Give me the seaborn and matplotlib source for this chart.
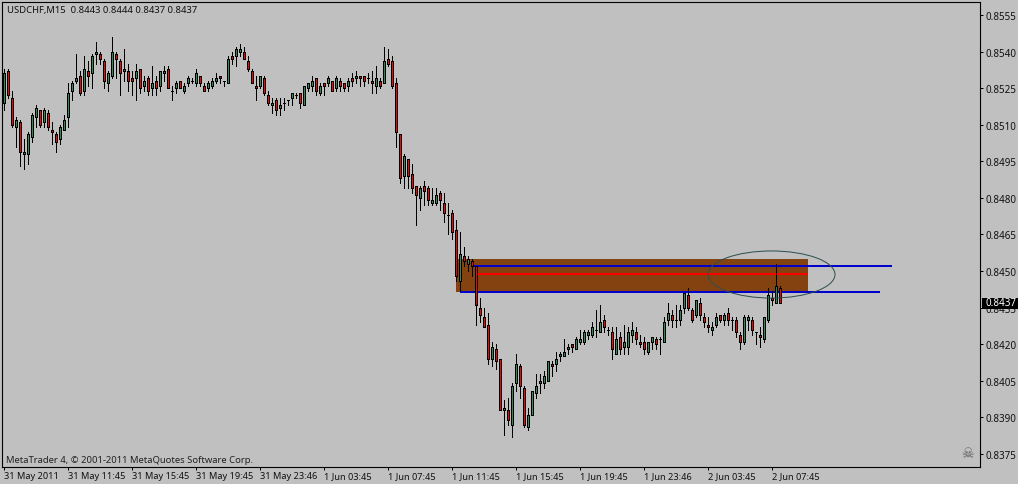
import pandas as pd
import matplotlib
matplotlib.use('Agg')
import matplotlib.pyplot as plt
from matplotlib.patches import Ellipse, Rectangle
import seaborn as sns

# quotes in 1/10000 CHF, one list per OHLC column
highs = [8533, 8533, 8524, 8513, 8512, 8504, 8507, 8515, 8518, 8516,
         8517, 8516, 8511, 8507, 8510, 8514, 8527, 8528, 8539, 8532,
         8538, 8536, 8539, 8544, 8540, 8537, 8532, 8546, 8540, 8537,
         8541, 8535, 8532, 8535, 8533, 8530, 8530, 8534, 8530, 8532,
         8534, 8534, 8526, 8528, 8528, 8527, 8530, 8529, 8533, 8530,
         8527, 8528, 8529, 8531, 8530, 8528, 8538, 8540, 8542, 8543,
         8542, 8538, 8533, 8530, 8530, 8530, 8524, 8521, 8521, 8521,
         8521, 8520, 8523, 8523, 8523, 8526, 8527, 8530, 8529, 8527,
         8527, 8530, 8528, 8530, 8529, 8527, 8529, 8531, 8532, 8530,
         8530, 8531, 8532, 8534, 8529, 8542, 8541, 8538, 8529, 8506,
         8498, 8496, 8494, 8485, 8485, 8487, 8485, 8484, 8484, 8483,
         8482, 8478, 8475, 8471, 8466, 8460, 8456, 8455, 8452, 8439,
         8435, 8433, 8421, 8420, 8414, 8397, 8398, 8404, 8416, 8412,
         8403, 8394, 8401, 8408, 8408, 8409, 8413, 8413, 8417, 8417,
         8422, 8420, 8420, 8423, 8426, 8426, 8426, 8429, 8434, 8436,
         8432, 8427, 8427, 8427, 8425, 8428, 8427, 8429, 8427, 8424,
         8423, 8421, 8423, 8423, 8423, 8431, 8437, 8434, 8436, 8436,
         8441, 8443, 8435, 8438, 8439, 8433, 8431, 8429, 8433, 8432,
         8433, 8435, 8431, 8431, 8425, 8432, 8432, 8431, 8425, 8427,
         8431, 8443, 8442, 8453, 8444]
lows = [8516, 8521, 8509, 8501, 8493, 8492, 8494, 8503, 8509, 8509,
        8509, 8508, 8502, 8499, 8502, 8508, 8509, 8520, 8527, 8522,
        8522, 8526, 8525, 8535, 8535, 8525, 8524, 8529, 8529, 8522,
        8528, 8524, 8522, 8520, 8523, 8524, 8522, 8522, 8522, 8524,
        8528, 8525, 8520, 8523, 8525, 8523, 8526, 8527, 8526, 8526,
        8524, 8524, 8525, 8527, 8527, 8526, 8527, 8535, 8534, 8538,
        8537, 8532, 8527, 8520, 8525, 8522, 8518, 8515, 8514, 8514,
        8516, 8518, 8518, 8521, 8517, 8518, 8524, 8524, 8522, 8522,
        8522, 8526, 8524, 8524, 8524, 8524, 8524, 8526, 8527, 8526,
        8526, 8527, 8523, 8523, 8525, 8527, 8534, 8525, 8501, 8486,
        8484, 8484, 8482, 8469, 8475, 8477, 8477, 8477, 8477, 8475,
        8470, 8465, 8463, 8446, 8442, 8452, 8450, 8448, 8428, 8429,
        8427, 8412, 8411, 8410, 8393, 8383, 8387, 8382, 8401, 8398,
        8386, 8385, 8391, 8398, 8400, 8402, 8405, 8407, 8409, 8413,
        8415, 8416, 8417, 8418, 8420, 8420, 8422, 8423, 8423, 8425,
        8425, 8424, 8414, 8416, 8416, 8416, 8416, 8421, 8420, 8419,
        8416, 8416, 8418, 8418, 8416, 8421, 8428, 8427, 8427, 8428,
        8433, 8434, 8429, 8431, 8430, 8427, 8425, 8424, 8427, 8429,
        8428, 8428, 8426, 8423, 8418, 8420, 8426, 8424, 8420, 8419,
        8421, 8429, 8436, 8437, 8437]
opens = [8519, 8532, 8521, 8509, 8511, 8498, 8498, 8505, 8513, 8516,
         8511, 8515, 8508, 8506, 8504, 8508, 8513, 8524, 8528, 8530,
         8524, 8532, 8531, 8539, 8539, 8536, 8527, 8530, 8539, 8536,
         8532, 8532, 8529, 8529, 8533, 8526, 8529, 8525, 8528, 8526,
         8531, 8533, 8524, 8525, 8528, 8524, 8527, 8528, 8527, 8530,
         8526, 8525, 8526, 8528, 8530, 8528, 8527, 8538, 8538, 8540,
         8540, 8536, 8532, 8526, 8526, 8529, 8522, 8518, 8520, 8517,
         8519, 8520, 8521, 8522, 8523, 8518, 8525, 8526, 8529, 8523,
         8527, 8527, 8528, 8525, 8528, 8527, 8526, 8529, 8529, 8530,
         8530, 8529, 8528, 8526, 8528, 8527, 8537, 8536, 8527, 8506,
         8489, 8496, 8490, 8485, 8480, 8485, 8484, 8478, 8478, 8482,
         8478, 8473, 8474, 8467, 8446, 8456, 8453, 8454, 8452, 8435,
         8431, 8428, 8414, 8418, 8414, 8393, 8393, 8387, 8404, 8411,
         8402, 8386, 8391, 8400, 8404, 8404, 8405, 8412, 8412, 8415,
         8415, 8418, 8420, 8418, 8421, 8421, 8424, 8424, 8426, 8425,
         8430, 8426, 8425, 8416, 8423, 8419, 8419, 8424, 8425, 8421,
         8421, 8417, 8421, 8422, 8422, 8421, 8430, 8432, 8430, 8430,
         8435, 8440, 8434, 8432, 8437, 8431, 8428, 8426, 8428, 8432,
         8430, 8433, 8430, 8430, 8424, 8421, 8430, 8430, 8425, 8424,
         8422, 8430, 8439, 8437, 8443]
closes = [8531, 8522, 8510, 8512, 8499, 8499, 8506, 8514, 8517, 8510,
          8516, 8509, 8507, 8503, 8509, 8512, 8523, 8527, 8529, 8523,
          8533, 8530, 8538, 8540, 8537, 8528, 8531, 8540, 8537, 8531,
          8533, 8528, 8528, 8532, 8525, 8528, 8524, 8527, 8525, 8532,
          8532, 8525, 8524, 8527, 8525, 8526, 8529, 8528, 8531, 8527,
          8524, 8527, 8528, 8529, 8529, 8528, 8537, 8537, 8541, 8541,
          8537, 8533, 8527, 8525, 8530, 8523, 8519, 8519, 8516, 8518,
          8519, 8520, 8523, 8522, 8519, 8526, 8527, 8528, 8524, 8526,
          8526, 8529, 8524, 8529, 8526, 8525, 8528, 8528, 8530, 8529,
          8528, 8529, 8527, 8529, 8526, 8536, 8535, 8526, 8507, 8488,
          8497, 8489, 8484, 8481, 8484, 8483, 8479, 8479, 8481, 8479,
          8474, 8473, 8466, 8448, 8457, 8454, 8455, 8452, 8436, 8432,
          8427, 8414, 8419, 8413, 8393, 8394, 8389, 8403, 8412, 8403,
          8387, 8391, 8401, 8403, 8405, 8407, 8413, 8411, 8414, 8416,
          8417, 8419, 8419, 8422, 8422, 8425, 8425, 8427, 8426, 8429,
          8427, 8426, 8418, 8422, 8418, 8421, 8425, 8426, 8422, 8420,
          8418, 8421, 8423, 8420, 8422, 8429, 8433, 8430, 8430, 8434,
          8441, 8435, 8430, 8438, 8432, 8429, 8427, 8427, 8431, 8430,
          8432, 8430, 8430, 8425, 8421, 8431, 8431, 8426, 8425, 8423,
          8431, 8440, 8438, 8444, 8437]

price_ticks = [0.8555, 0.8540, 0.8525, 0.8510, 0.8495, 0.8480, 0.8465, 0.8450,
               0.8435, 0.8420, 0.8405, 0.8390, 0.8375]
time_ticks = [0, 16, 32, 48, 64, 80, 96, 112, 128, 144, 160, 176, 192]
time_labels = ['31 May 2011', '31 May 11:45', '31 May 15:45', '31 May 19:45', '31 May 23:46',
               '1 Jun 03:45', '1 Jun 07:45', '1 Jun 11:45', '1 Jun 15:45', '1 Jun 19:45',
               '1 Jun 23:46', '2 Jun 03:45', '2 Jun 07:45']
last_price = 0.8437

# zone drawn on the chart
zone_bars = [113, 201]
zone_prices = [0.84415, 0.8455]
upper_level = 0.8452
lower_level = 0.84415
mid_level = 0.8449

df = pd.DataFrame({'open': opens, 'high': highs, 'low': lows, 'close': closes}) / 10000
df['bar'] = range(len(df))

GREY = '#c0c0c0'
PX = 0.72  # one pixel in points at dpi 100

sns.set_style('white', rc={'axes.facecolor': GREY, 'figure.facecolor': GREY,
                           'axes.edgecolor': 'black', 'axes.linewidth': PX})
plt.rcParams['font.family'] = ['Noto Sans', 'DejaVu Sans']

fig = plt.figure(figsize=(10.18, 4.85), dpi=100)
ax = fig.add_axes([2 / 1018, 17 / 485, 978 / 1018, 465.5 / 485])

# zone and levels sit behind the candles
ax.add_patch(Rectangle((zone_bars[0], zone_prices[0]), zone_bars[1] - zone_bars[0],
                       zone_prices[1] - zone_prices[0], fc='#844211', ec='none', zorder=1))
for start, end, level, colour in [(117.5, 222, upper_level, '#0000cc'),
                                  (114, 219, lower_level, '#0000cc'),
                                  (118, 201, mid_level, '#ff0000')]:
    ax.plot([start, end], [level, level], color=colour, lw=2 * PX, zorder=2,
            solid_capstyle='butt', antialiased=False)

# wicks
wicks = df.melt(id_vars='bar', value_vars=['high', 'low'], value_name='price')
sns.lineplot(data=wicks, x='bar', y='price', units='bar', estimator=None, color='black',
             lw=PX, antialiased=False, legend=False, ax=ax, zorder=3)

# bodies
up = df[df['close'] > df['open']]
down = df[df['close'] < df['open']]
flat = df[df['close'] == df['open']]
for part, colour in [(up, '#2e8b57'), (down, '#ff0000'), (flat, 'black')]:
    ax.bar(part['bar'], part['close'] - part['open'], bottom=part['open'], width=0.5,
           color=colour, edgecolor='black', linewidth=PX, antialiased=False, zorder=4)

ax.add_patch(Ellipse((192, 0.84486), 31.75, 0.00193, fc='none', ec='#2f4f4f', lw=PX, zorder=5))

ax.set_xlim(-0.375, 244.125)
ax.set_ylim(0.83697, 0.85605)
ax.yaxis.tick_right()
ax.set_yticks(price_ticks)
ax.set_yticklabels(['%.4f' % p for p in price_ticks], fontsize=7.1, color='#111111')
ax.set_xticks(time_ticks)
ax.set_xticklabels(time_labels, fontsize=6.6, ha='left', color='#111111')
ax.tick_params(axis='both', length=2.2, width=PX, color='black', pad=2, bottom=True, right=True, left=False)
ax.tick_params(axis='x', pad=1)
ax.set_xlabel('')
ax.set_ylabel('')

ax.text(0.0051, 0.9915, 'USDCHF,M15  0.8443 0.8444 0.8437 0.8437', transform=ax.transAxes,
        fontsize=6.8, va='top', ha='left', color='#111111')
ax.text(0.0045, 0.0055, 'MetaTrader 4, © 2001-2011 MetaQuotes Software Corp.', transform=ax.transAxes,
        fontsize=6.8, va='bottom', ha='left', color='#222222')
ax.text(0.9875, 0.030, '☠', transform=ax.transAxes, fontsize=10, ha='center', va='center',
        color='#606060', family='DejaVu Sans')

# current price tag over the axis
ax.add_patch(Rectangle((1.002, last_price - 0.000235), 0.0368, 0.00045, transform=ax.get_yaxis_transform(),
                       fc='black', ec='none', clip_on=False, zorder=9))
ax.text(1.0061, last_price, '%.4f' % last_price, transform=ax.get_yaxis_transform(), fontsize=7.1,
        color='white', va='center', ha='left', clip_on=False, zorder=10)

fig.savefig('out.png', dpi=100, facecolor=GREY)
